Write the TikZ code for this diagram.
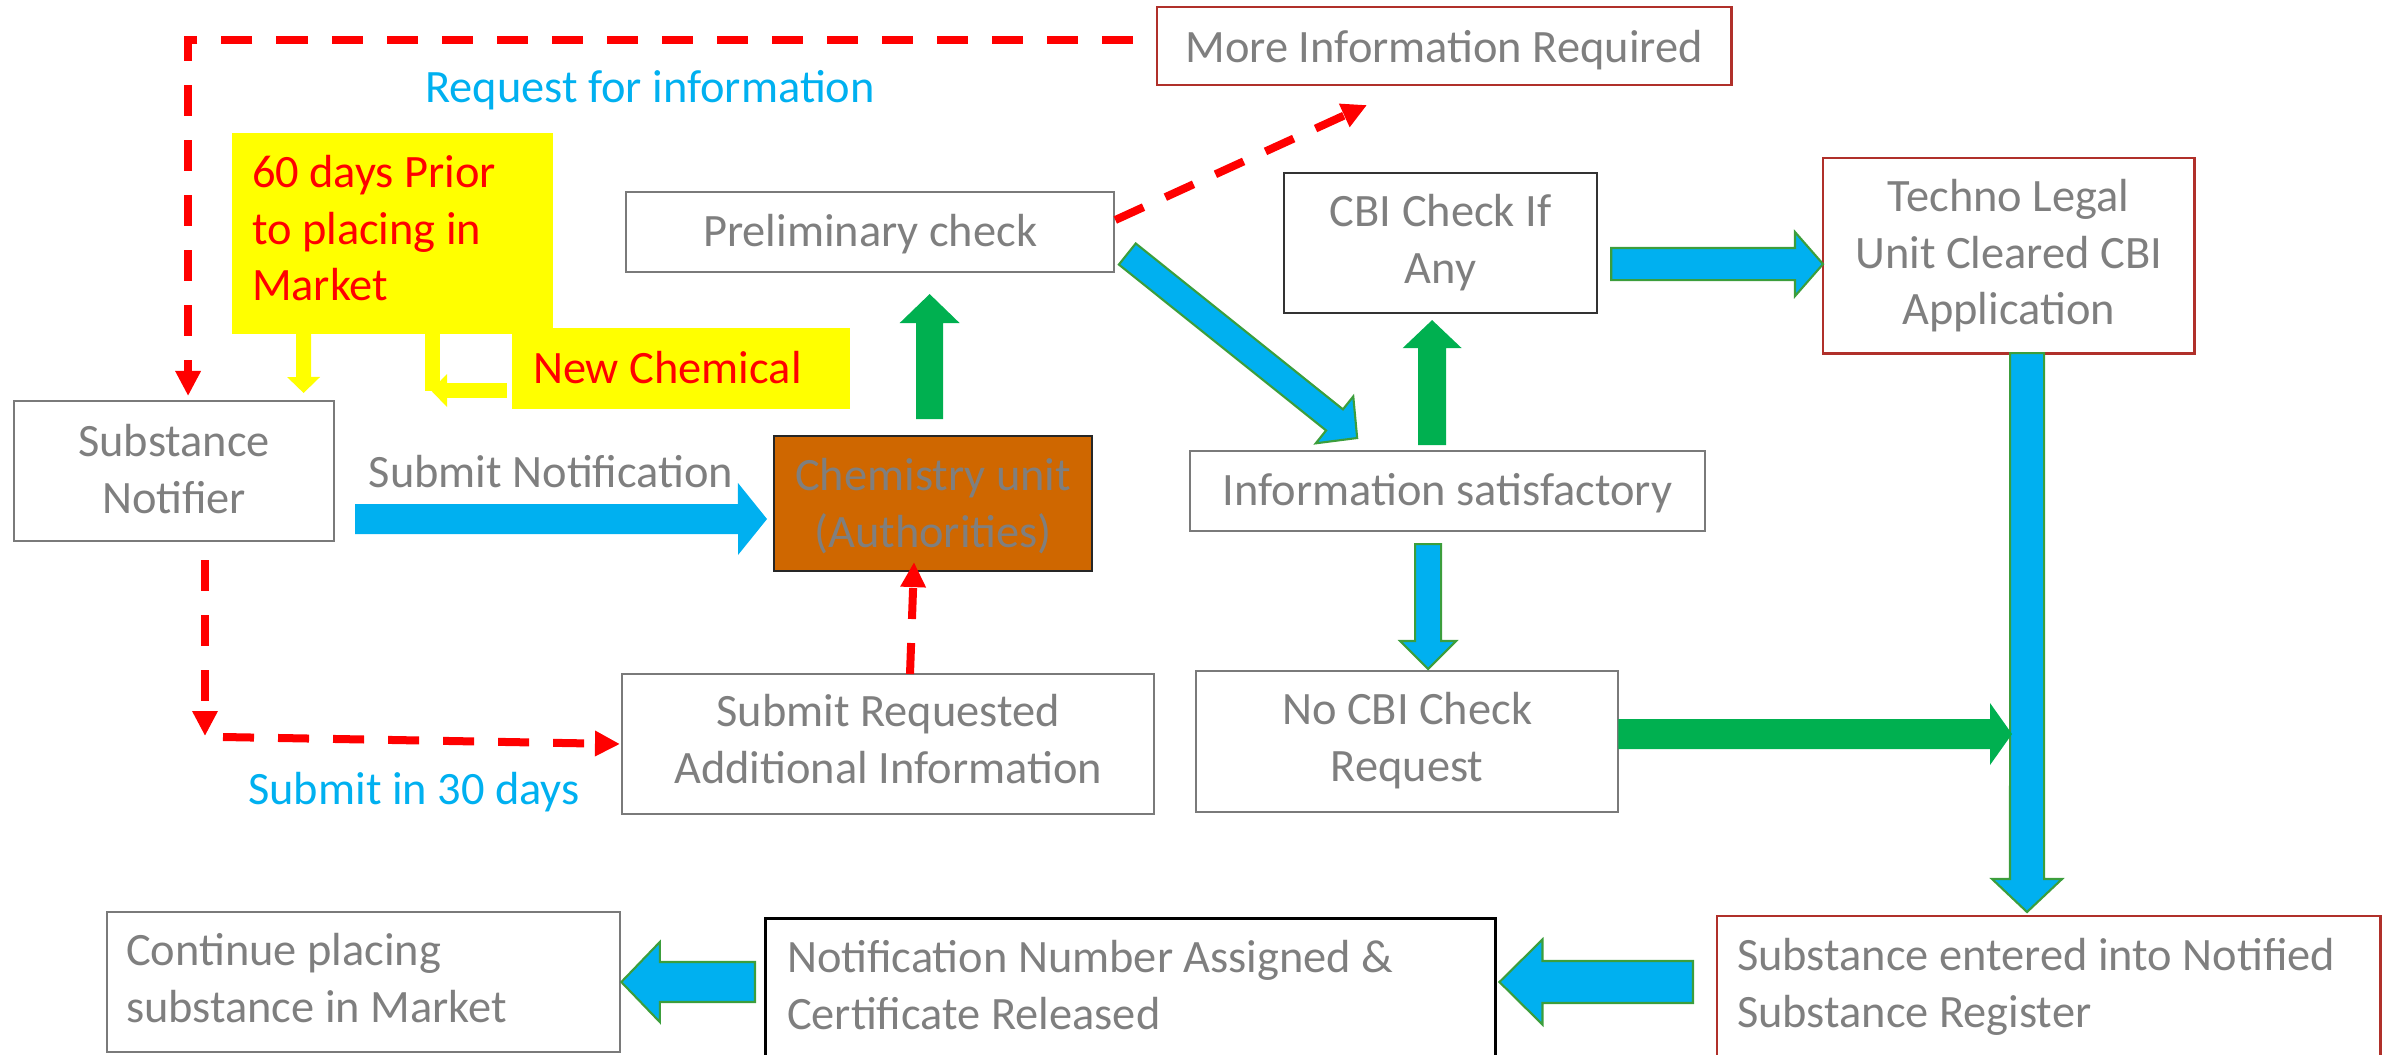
\documentclass[tikz,border=0pt]{standalone}
\usepackage{fontspec}
\setmainfont{Carlito}
\usetikzlibrary{calc,arrows.meta}

\definecolor{txtgrey}{HTML}{7F7F7F}
\definecolor{boxgrey}{HTML}{7A7A7A}
\definecolor{skyblue}{HTML}{00B0F0}
\definecolor{leafgreen}{HTML}{00B050}
\definecolor{outgreen}{HTML}{3C9E3C}
\definecolor{brickred}{HTML}{B0302A}
\definecolor{rust}{HTML}{CF6700}
\definecolor{hiyellow}{HTML}{FFFF00}

\newcommand\diagfont{\fontsize{13.2pt}{16.2pt}\selectfont}

% Block arrow: #1 style, #2 tail point, #3 tip point,
% #4 half shaft width, #5 half head width, #6 head length
\newcommand\blockarrow[6]{%
  \coordinate (ba-s) at #2;
  \coordinate (ba-e) at #3;
  \coordinate (ba-h) at ($(ba-e)!#6!(ba-s)$);
  \draw[#1] ($(ba-s)!#4!90:(ba-e)$) -- ($(ba-h)!#4!-90:(ba-s)$)
    -- ($(ba-h)!#5!-90:(ba-s)$) -- (ba-e) -- ($(ba-h)!#5!90:(ba-s)$)
    -- ($(ba-h)!#4!90:(ba-s)$) -- ($(ba-s)!#4!-90:(ba-e)$) -- cycle;
}

\begin{document}
\begin{tikzpicture}[x=0.01cm,y=-0.01cm,
  tbox/.style={anchor=north west, inner sep=0pt, outer sep=0pt,
    font=\diagfont, text=txtgrey, align=center,
    execute at begin node={\spaceskip=\fontdimen2\font\relax\xspaceskip=0pt\relax}},
  greybox/.style={tbox, draw=boxgrey, line width=0.5pt},
  darkbox/.style={tbox, draw=black!80, line width=0.5pt},
  redbox/.style={tbox, draw=brickred, line width=0.8pt},
  padleft/.style={align=left, inner xsep=#1},
  note/.style={anchor=base, inner sep=0pt, font=\diagfont},
  reddash/.style={draw=red, line width=0.08cm,
    dash pattern=on 0.31cm off 0.24cm,
    -{Triangle[length=0.25cm,width=0.24cm]}},
  yelarrow/.style={draw=hiyellow, line width=0.15cm,
    -{Triangle[length=0.16cm,width=0.32cm]}},
  yelline/.style={draw=hiyellow, line width=0.15cm},
  blueblk/.style={fill=skyblue, draw=outgreen, line width=0.6pt, line join=miter},
  plainblue/.style={fill=skyblue, draw=none},
  greenblk/.style={fill=leafgreen, draw=none},
]
\useasboundingbox (0,0) rectangle (2389,1054);
\clip (0,0) rectangle (2389,1054);

% ---- boxes ----
\node[redbox, text width=5.74cm, text height=0.55cm, text depth=0.23cm]
  (moreinfo) at (1157,7) {More Information Required};
\node[greybox, text width=3.2cm, text height=0.55cm, text depth=0.85cm]
  (notifier) at (14,401) {Substance\\Notifier};
\node[tbox, fill=hiyellow, text=red, padleft=0.2cm, text width=2.81cm,
  text height=0.54cm, text depth=1.47cm]
  (prior) at (232,133) {60 days Prior\\to placing in\\Market};
\node[tbox, fill=hiyellow, text=red, padleft=0.21cm, text width=2.96cm,
  text height=0.55cm, text depth=0.26cm]
  (newchem) at (512,328) {New Chemical};
\node[greybox, text width=4.88cm, text height=0.54cm, text depth=0.26cm]
  (prelim) at (626,192) {Preliminary check};
\node[tbox, fill=rust, draw=black!85, line width=0.5pt, text width=3.18cm,
  text height=0.54cm, text depth=0.81cm]
  (chem) at (774,436) {Chemistry unit\\(Authorities)};
\node[greybox, text width=5.32cm, text height=0.52cm, text depth=0.88cm]
  (submitreq) at (622,674) {Submit Requested\\Additional Information};
\node[darkbox, text width=3.13cm, text height=0.53cm, text depth=0.87cm]
  (cbi) at (1284,173) {CBI Check If\\Any};
\node[redbox, text width=3.71cm, text height=0.53cm, text depth=1.42cm]
  (techno) at (1823,158) {Techno Legal\\Unit Cleared CBI\\Application};
\node[greybox, text width=5.15cm, text height=0.54cm, text depth=0.26cm]
  (infosat) at (1190,451) {Information satisfactory};
\node[greybox, text width=4.22cm, text height=0.53cm, text depth=0.88cm]
  (nocbi) at (1196,671) {No CBI Check\\Request};
\node[redbox, padleft=0.2cm, text width=6.23cm, text height=0.54cm,
  text depth=1.6cm]
  (subent) at (1717,916) {Substance entered into Notified\\Substance Register};
\node[tbox, draw=black, line width=0.85pt, padleft=0.22cm, text width=6.86cm,
  text height=0.54cm, text depth=1.6cm]
  (notif) at (765,918) {Notification Number Assigned \&\\Certificate Released};
\node[greybox, padleft=0.19cm, text width=4.75cm, text height=0.53cm,
  text depth=0.87cm]
  (cont) at (107,912) {Continue placing\\substance in Market};

% ---- labels ----
\node[note, text=skyblue] (reqlbl) at (650,102) {Request for information};
\node[note, text=txtgrey] (sublbl) at (551,487) {Submit Notification};
\node[note, text=skyblue] (daylbl) at (414,804) {Submit in 30 days};

% ---- yellow pointers ----
\draw[yelarrow] ($(prior.south west)+(71.5,0)$) -- ($(notifier.north)+(129.5,-8)$);
\coordinate (ncorner) at (432.5,390.5);
\draw[yelline] ($(prior.south west)+(200.5,0)$) -- (ncorner);
\draw[yelarrow] ($(newchem.north west)+(-5,62.5)$) -- ($(ncorner)+(-1.5,0)$);

% ---- red dashed request loops ----
\draw[reddash, dash phase=0.31cm] ($(moreinfo.north west)+(0,32.5)$)
  -| ($(notifier.north)+(14,-5)$);
\draw[reddash] ($(prelim.north east)+(1,28)$) -- ($(moreinfo.south west)+(210,20)$);
\coordinate (dropend) at (205,736);
\coordinate (runstart) at (223,737);
\draw[reddash] ($(notifier.south west)+(191,19)$) -- (dropend);
\draw[reddash] (runstart) -- ($(submitreq.north west)+(-2,70)$);
\draw[reddash] ($(submitreq.north west)+(288,0)$) -- ($(chem.south west)+(140,-9)$);

% ---- block arrows ----
\blockarrow{plainblue}{($(notifier.east)+(21,48)$)}{($(chem.north west)+(-7,83)$)}{0.15cm}{0.36cm}{0.29cm}
\blockarrow{greenblk}{($(chem.north)+(-3.5,-17)$)}{($(prelim.south)+(59.5,22)$)}{0.135cm}{0.30cm}{0.29cm}
\blockarrow{blueblk}{($(prelim.east)+(13,22)$)}{($(infosat.north)+(-90.5,-13)$)}{0.135cm}{0.30cm}{0.29cm}
\blockarrow{greenblk}{($(infosat.north)+(-15.5,-6)$)}{($(cbi.south)+(-8.5,7)$)}{0.14cm}{0.295cm}{0.28cm}
\blockarrow{blueblk}{($(cbi.east)+(14,21)$)}{($(techno.west)+(0,8.5)$)}{0.16cm}{0.32cm}{0.28cm}
\blockarrow{blueblk}{($(infosat.south)+(-19.5,13)$)}{($(nocbi.north)+(21,-2)$)}{0.13cm}{0.28cm}{0.28cm}
\blockarrow{blueblk}{($(techno.south)+(18.5,0)$)}{($(subent.north west)+(310,-4)$)}{0.17cm}{0.35cm}{0.33cm}
\coordinate (joinpt) at (2012,734);
\blockarrow{greenblk}{($(nocbi.east)+(0,-7.5)$)}{(joinpt)}{0.15cm}{0.31cm}{0.22cm}
\blockarrow{blueblk}{($(subent.north west)+(-24,66)$)}{($(notif.north east)+(4,64)$)}{0.21cm}{0.425cm}{0.43cm}
\blockarrow{blueblk}{($(notif.north west)+(-10,64)$)}{($(cont.north east)+(1,70)$)}{0.20cm}{0.40cm}{0.385cm}
\end{tikzpicture}
\end{document}
